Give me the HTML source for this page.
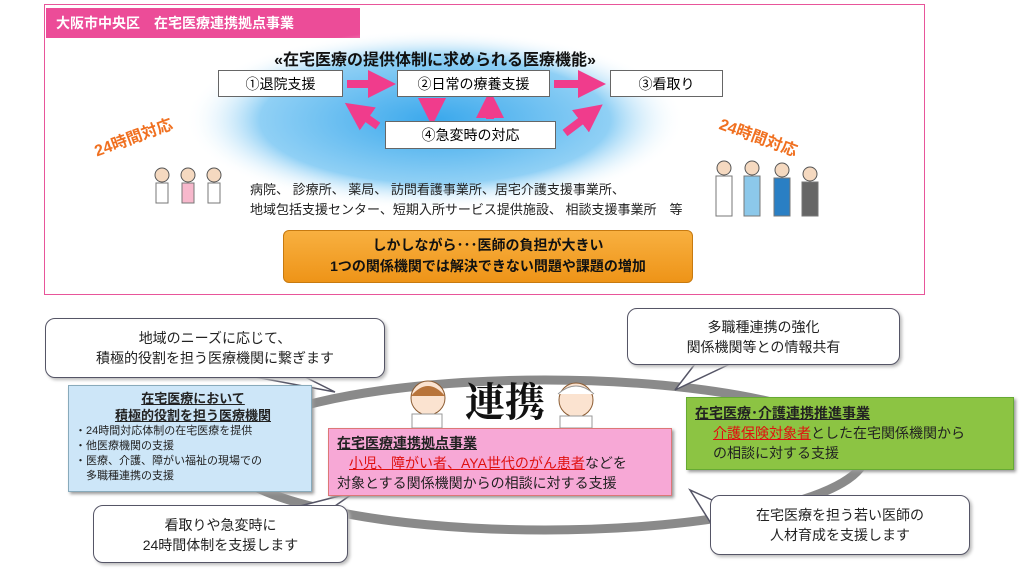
<!DOCTYPE html>
<html><head><meta charset="utf-8">
<style>
body{margin:0;width:1024px;height:576px;background:#fff;position:relative;overflow:hidden;font-family:"Liberation Sans","Noto Sans CJK JP",sans-serif;}
.a{position:absolute;}
.box{position:absolute;background:#fff;border:1px solid #666;font-size:14px;text-align:center;box-sizing:border-box;}
.call{position:absolute;background:#fff;border:1.5px solid #556;border-radius:10px;box-sizing:border-box;text-align:center;font-size:14px;line-height:20px;color:#222;box-shadow:2px 2px 3px #bbb;}
u{text-decoration:underline;}
.red{color:#e01010;text-decoration:underline;}
</style></head><body>
<div class="a" style="left:44px;top:4px;width:881px;height:291px;border:1.5px solid #e8559a;box-sizing:border-box;"></div>
<div class="a" style="left:46px;top:8px;width:314px;height:30px;background:#ec4c98;color:#fff;font-weight:bold;font-size:14px;line-height:30px;padding-left:10px;box-sizing:border-box;">大阪市中央区　在宅医療連携拠点事業</div>
<svg class="a" style="left:0;top:0" width="1024" height="576">
<defs>
<radialGradient id="bg" cx="50%" cy="50%" r="50%"><stop offset="0" stop-color="#3aa8ec"/><stop offset="0.7" stop-color="#90d0f5"/><stop offset="1" stop-color="#fff" stop-opacity="0"/></radialGradient>
<marker id="m" markerWidth="3.5" markerHeight="3.5" refX="1.5" refY="1.75" orient="auto"><path d="M0,0 L3.5,1.75 L0,3.5z" fill="#f03c8c"/></marker>
</defs>
<ellipse cx="435" cy="120" rx="250" ry="90" fill="url(#bg)"/>
<g stroke="#f03c8c" stroke-width="8" fill="none" marker-end="url(#m)">
<line x1="347" y1="84" x2="380" y2="84"/>
<line x1="554" y1="84" x2="590" y2="84"/>
<line x1="432" y1="98" x2="432" y2="110"/>
<line x1="490" y1="119" x2="490" y2="106"/>
<line x1="378" y1="126" x2="358" y2="112"/>
<line x1="565" y1="133" x2="590" y2="114"/>
</g>
<ellipse cx="545" cy="455" rx="320" ry="75" fill="none" stroke="#8a8a8a" stroke-width="9"/>
<path d="M255,377 L335,392 L305,377z" fill="#fff" stroke="#556" stroke-width="1.5"/>
<path d="M695,364 L675,390 L730,364z" fill="#fff" stroke="#556" stroke-width="1.5"/>
<path d="M300,506 L355,492 L335,506z" fill="#fff" stroke="#556" stroke-width="1.5"/>
<path d="M712,500 L690,490 L712,525z" fill="#fff" stroke="#556" stroke-width="1.5"/>
</svg>
<div class="a" style="left:0;width:870px;top:46px;text-align:center;font-weight:bold;font-size:16px;color:#111;">«在宅医療の提供体制に求められる医療機能»</div>
<div class="box" style="left:218px;top:70px;width:125px;height:27px;line-height:26px;">①退院支援</div>
<div class="box" style="left:397px;top:70px;width:153px;height:27px;line-height:26px;">②日常の療養支援</div>
<div class="box" style="left:610px;top:70px;width:113px;height:27px;line-height:26px;">③看取り</div>
<div class="box" style="left:385px;top:121px;width:171px;height:28px;line-height:27px;">④急変時の対応</div>
<div class="a" style="left:92px;top:124px;color:#f07020;font-weight:bold;font-size:16px;transform:rotate(-20deg);">24時間対応</div>
<div class="a" style="left:718px;top:124px;color:#f07020;font-weight:bold;font-size:16px;transform:rotate(20deg);">24時間対応</div>
<svg class="a" style="left:148px;top:165px" width="90" height="50">
<g fill="#f5d9c0" stroke="#555"><circle cx="14" cy="10" r="7"/><circle cx="40" cy="10" r="7"/><circle cx="66" cy="10" r="7"/></g>
<rect x="8" y="18" width="12" height="20" fill="#fff" stroke="#777"/><rect x="34" y="18" width="12" height="20" fill="#f7b8cc" stroke="#777"/><rect x="60" y="18" width="12" height="20" fill="#fff" stroke="#777"/>
</svg>
<svg class="a" style="left:712px;top:158px" width="120" height="62">
<g fill="#f5d9c0" stroke="#555"><circle cx="12" cy="10" r="7"/><circle cx="40" cy="10" r="7"/><circle cx="70" cy="12" r="7"/><circle cx="98" cy="16" r="7"/></g>
<rect x="4" y="18" width="16" height="40" fill="#fff" stroke="#777"/><rect x="32" y="18" width="16" height="40" fill="#8cc8ea" stroke="#777"/><rect x="62" y="20" width="16" height="38" fill="#2a7fc4" stroke="#777"/><rect x="90" y="24" width="16" height="34" fill="#666" stroke="#777"/>
</svg>
<div class="a" style="left:250px;top:180px;font-size:13px;line-height:20px;color:#222;">病院、 診療所、 薬局、 訪問看護事業所、居宅介護支援事業所、<br>地域包括支援センター、短期入所サービス提供施設、 相談支援事業所　等</div>
<div class="a" style="left:283px;top:230px;width:410px;height:53px;background:linear-gradient(#f8b040,#ee9418);border:1.5px solid #c77a10;border-radius:6px;box-sizing:border-box;text-align:center;font-weight:bold;font-size:14px;line-height:21px;padding-top:4px;color:#111;">しかしながら･･･医師の負担が大きい<br>1つの関係機関では解決できない問題や課題の増加</div>
<div class="call" style="left:45px;top:318px;width:340px;height:60px;padding-top:9px;">地域のニーズに応じて、<br>積極的役割を担う医療機関に繋ぎます</div>
<div class="call" style="left:627px;top:308px;width:273px;height:57px;padding-top:8px;">多職種連携の強化<br>関係機関等との情報共有</div>
<div class="call" style="left:93px;top:505px;width:255px;height:58px;padding-top:9px;">看取りや急変時に<br>24時間体制を支援します</div>
<div class="call" style="left:710px;top:495px;width:260px;height:60px;padding-top:9px;">在宅医療を担う若い医師の<br>人材育成を支援します</div>
<svg class="a" style="left:400px;top:376px" width="200" height="52">
<circle cx="28" cy="22" r="17" fill="#fbe3d0" stroke="#8a5a30"/><path d="M11,20 Q28,0 45,20" fill="#b8743a"/>
<rect x="12" y="38" width="30" height="14" fill="#fff" stroke="#999"/>
<circle cx="176" cy="24" r="17" fill="#fbe3d0" stroke="#8a5a30"/><path d="M158,18 Q176,2 194,18" fill="#fff" stroke="#999"/>
<rect x="160" y="40" width="32" height="12" fill="#fff" stroke="#999"/>
</svg>
<div class="a" style="left:465px;top:376px;font-family:'Noto Serif CJK SC','Liberation Serif',serif;font-size:40px;font-weight:bold;line-height:48px;color:#111;">連携</div>
<div class="a" style="left:68px;top:385px;width:244px;height:107px;background:#cde6f8;border:1px solid #8ab;box-sizing:border-box;box-shadow:2px 2px 3px #999;font-size:11px;line-height:15px;color:#222;padding:4px 0 0 6px;">
<div style="text-align:center;font-weight:bold;font-size:13px;line-height:17px;"><u>在宅医療において</u><br><u>積極的役割を担う医療機関</u></div>
・24時間対応体制の在宅医療を提供<br>・他医療機関の支援<br>・医療、介護、障がい福祉の現場での<br>　多職種連携の支援</div>
<div class="a" style="left:328px;top:428px;width:344px;height:68px;background:#f7a8d6;border:1px solid #d77;box-sizing:border-box;box-shadow:2px 2px 3px #999;font-size:14px;line-height:20px;color:#222;padding:4px 0 0 8px;">
<b><u>在宅医療連携拠点事業</u></b><br><span style="padding-left:12px"><span class="red">小児、障がい者、AYA世代のがん患者</span>などを</span><br>対象とする関係機関からの相談に対する支援</div>
<div class="a" style="left:686px;top:397px;width:328px;height:73px;background:#8cc443;border:1px solid #6a3;box-sizing:border-box;box-shadow:2px 2px 3px #999;font-size:14px;line-height:20px;color:#222;padding:5px 0 0 8px;">
<b><u>在宅医療･介護連携推進事業</u></b><br><span style="padding-left:18px"><span class="red">介護保険対象者</span>とした在宅関係機関から</span><br><span style="padding-left:18px">の相談に対する支援</span></div>
</body></html>
